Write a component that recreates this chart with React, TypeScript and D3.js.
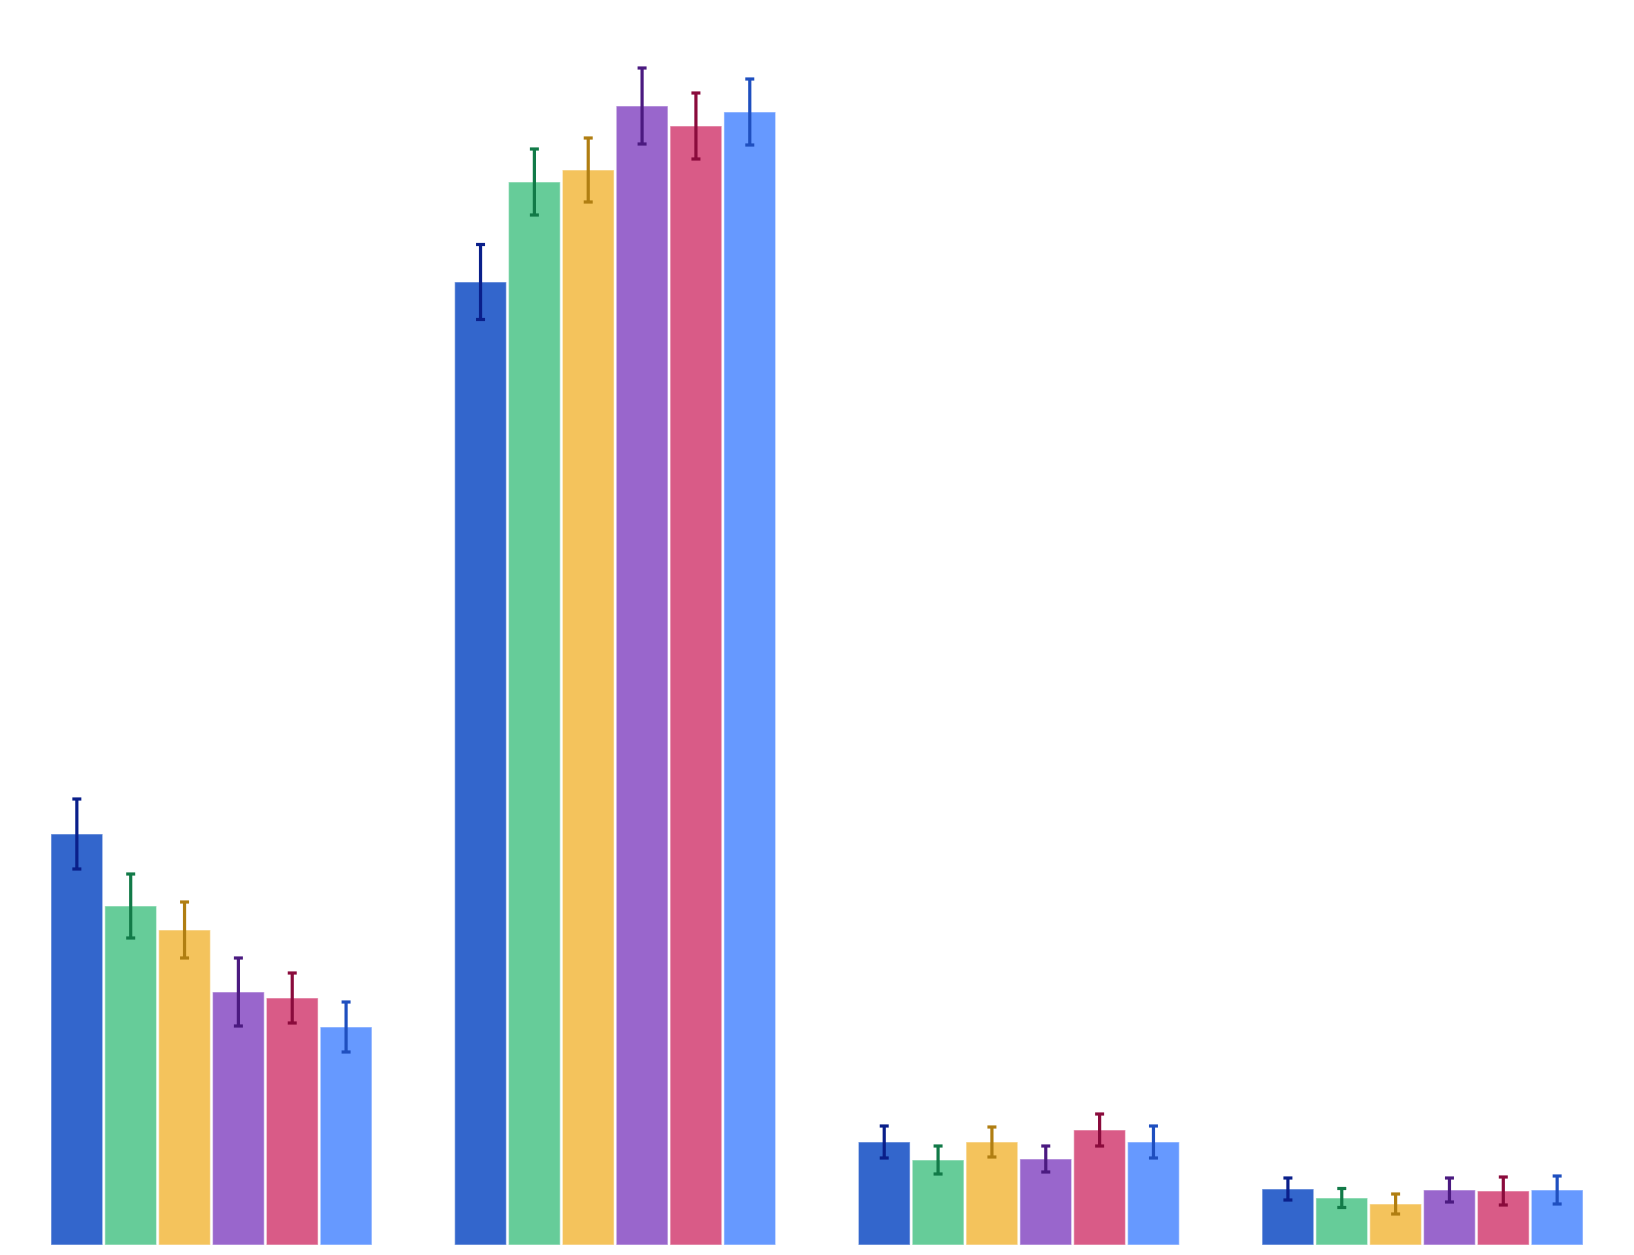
import { useEffect, useRef } from 'react'
import * as d3 from 'd3'

const groups = ['G1', 'G2', 'G3', 'G4']
const series = ['S1', 'S2', 'S3', 'S4', 'S5', 'S6']

// values per group, one entry per series
const values = [
  [41.1, 33.9, 31.5, 25.3, 24.7, 21.8],
  [96.3, 106.3, 107.5, 113.9, 111.9, 113.3],
  [10.3, 8.5, 10.3, 8.6, 11.5, 10.3],
  [5.6, 4.7, 4.1, 5.5, 5.4, 5.5],
]
const errors = [
  [3.5, 3.2, 2.8, 3.4, 2.5, 2.5],
  [3.75, 3.3, 3.2, 3.8, 3.3, 3.3],
  [1.6, 1.4, 1.5, 1.3, 1.6, 1.6],
  [1.1, 0.95, 1.0, 1.2, 1.4, 1.4],
]

const barColors = ['#3366cc', '#66cc99', '#f4c35c', '#9966cc', '#d95b87', '#6699ff']
const errColors = ['#0a1f8a', '#127a48', '#b07e12', '#4b1a80', '#8a0b3c', '#1f4fbf']

export default function App() {
  const svgRef = useRef<SVGSVGElement>(null)
  const width = 1634
  const height = 1255

  useEffect(() => {
    document.body.style.margin = '0'
    if (!svgRef.current) return
    const svg = d3.select(svgRef.current)
    svg.selectAll('*').remove()

    const x0 = d3
      .scaleBand()
      .domain(groups)
      .range([51, 1583])
      .paddingInner(0.205)
      .paddingOuter(0)

    const x1 = d3
      .scaleBand()
      .domain(series)
      .range([0, x0.bandwidth()])
      .paddingInner(0.04)

    const y = d3.scaleLinear().domain([0, 120]).range([1245, 45])

    const rows = groups.flatMap((g, gi) =>
      series.map((s, si) => ({ g, s, si, v: values[gi][si], e: errors[gi][si] }))
    )

    const g = svg.append('g')

    g.selectAll('.bar')
      .data(rows)
      .enter()
      .append('rect')
      .attr('class', 'bar')
      .attr('x', (d) => x0(d.g)! + x1(d.s)!)
      .attr('y', (d) => y(d.v))
      .attr('width', x1.bandwidth())
      .attr('height', (d) => y(0) - y(d.v))
      .attr('fill', (d) => barColors[d.si])
      .attr('stroke', 'rgba(255,255,255,0.45)')
      .attr('stroke-width', 1.2)

    const cx = (d: { g: string; s: string }) => x0(d.g)! + x1(d.s)! + x1.bandwidth() / 2
    const capHalf = 4.5

    const err = g
      .selectAll('.err')
      .data(rows)
      .enter()
      .append('g')
      .attr('class', 'err')
      .attr('stroke', (d) => errColors[d.si])
      .attr('stroke-width', 3.2)

    err
      .append('line')
      .attr('x1', cx)
      .attr('x2', cx)
      .attr('y1', (d) => y(d.v + d.e))
      .attr('y2', (d) => y(d.v - d.e))

    err
      .append('line')
      .attr('x1', (d) => cx(d) - capHalf)
      .attr('x2', (d) => cx(d) + capHalf)
      .attr('y1', (d) => y(d.v + d.e))
      .attr('y2', (d) => y(d.v + d.e))

    err
      .append('line')
      .attr('x1', (d) => cx(d) - capHalf)
      .attr('x2', (d) => cx(d) + capHalf)
      .attr('y1', (d) => y(d.v - d.e))
      .attr('y2', (d) => y(d.v - d.e))
  }, [])

  return (
    <svg
      ref={svgRef}
      width={width}
      height={height}
      style={{ display: 'block', background: '#fff' }}
    />
  )
}
